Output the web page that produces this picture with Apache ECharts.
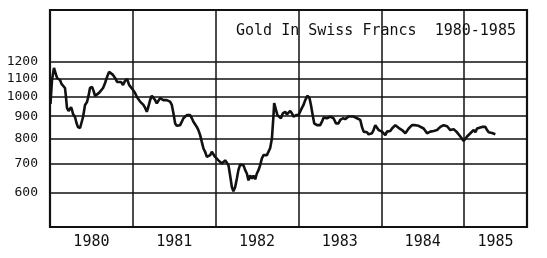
<!DOCTYPE html>
<html>
<head>
<meta charset="utf-8">
<script src="https://cdn.jsdelivr.net/npm/echarts@6/dist/echarts.min.js"></script>
<style>html,body{margin:0;padding:0;background:#fff}#c{width:547px;height:258px}</style>
</head>
<body>
<div id="c"></div>
<script>
var titleText = 'Gold In Swiss Francs  1980-1985';
var yTickValues = [600, 700, 800, 900, 1000, 1100, 1200];
var yearLines = [1981, 1982, 1983, 1984, 1985];
var yearLabelPositions = [1980.5, 1981.5, 1982.5, 1983.5, 1984.5, 1985.38];
var yMin = 500, yMax = 1580, xMin = 1980, xMax = 1985.76;

var years = [
1980.006,1980.024,1980.048,1980.066,1980.085,1980.103,1980.121,1980.139,1980.157,1980.181,
1980.193,1980.205,1980.224,1980.242,1980.254,1980.266,1980.278,1980.302,1980.320,1980.338,
1980.363,1980.381,1980.399,1980.423,1980.447,1980.465,1980.483,1980.508,1980.526,1980.544,
1980.568,1980.592,1980.616,1980.641,1980.665,1980.689,1980.713,1980.737,1980.761,1980.786,
1980.810,1980.834,1980.858,1980.882,1980.906,1980.931,1980.955,1980.979,
1981.003,1981.027,1981.048,1981.067,1981.088,1981.108,1981.128,1981.149,1981.169,1981.188,
1981.209,1981.229,1981.249,1981.269,1981.290,1981.309,1981.329,1981.350,1981.369,1981.390,
1981.410,1981.430,1981.450,1981.471,1981.490,1981.511,1981.531,1981.571,1981.592,1981.611,
1981.632,1981.652,1981.671,1981.692,1981.713,1981.732,1981.752,1981.773,1981.792,1981.813,
1981.833,1981.853,1981.873,1981.894,1981.913,1981.934,1981.954,1981.974,1981.994,
1982.015,1982.034,1982.055,1982.075,1982.094,1982.115,1982.136,1982.155,1982.175,1982.196,
1982.215,1982.236,1982.256,1982.275,1982.296,1982.317,1982.336,1982.357,1982.377,1982.397,
1982.417,1982.438,1982.457,1982.478,1982.498,1982.518,1982.538,1982.558,1982.578,1982.599,
1982.619,1982.638,1982.659,1982.680,1982.699,1982.707,1982.726,1982.746,1982.767,1982.788,
1982.812,1982.840,1982.861,1982.880,1982.901,1982.921,1982.941,1982.973,
1983.001,1983.030,1983.061,1983.082,1983.110,1983.134,1983.151,1983.175,1983.191,1983.223,
1983.243,1983.263,1983.284,1983.303,1983.344,1983.384,1983.424,1983.453,1983.484,1983.505,
1983.538,1983.565,1983.605,1983.666,1983.707,1983.747,1983.767,1983.787,1983.807,1983.828,
1983.847,1983.868,1983.888,1983.907,1983.928,1983.948,1983.968,1983.988,
1984.009,1984.028,1984.049,1984.069,1984.089,1984.109,1984.130,1984.149,1984.170,1984.190,
1984.209,1984.230,1984.251,1984.270,1984.291,1984.311,1984.331,1984.351,1984.371,1984.391,
1984.411,1984.432,1984.451,1984.472,1984.512,1984.553,1984.593,1984.633,1984.674,1984.714,
1984.753,1984.774,1984.795,1984.834,1984.874,1984.915,1984.955,1984.995,
1985.016,1985.036,1985.076,1985.116,1985.137,1985.157,1985.176,1985.217,1985.257,1985.278,
1985.297,1985.338,1985.378
];
var prices = [
960,1090,1162,1132,1102,1108,1090,1068,1062,1045,
996,940,925,920,944,930,910,896,868,849,
845,854,896,955,970,1002,1045,1051,1029,1002,
1007,1018,1023,1045,1073,1108,1138,1150,1120,1102,
1079,1090,1079,1062,1085,1096,1062,1051,
1034,1018,997,996,972,972,955,940,921,946,
980,1003,997,980,963,972,990,986,980,986,
980,980,972,955,915,866,855,858,874,890,
898,905,914,905,890,874,866,850,836,814,
785,758,745,725,719,732,745,743,725,
719,712,706,700,706,712,706,694,657,618,
604,618,646,676,696,700,694,676,664,640,
657,646,657,644,664,676,694,719,732,725,
732,732,760,800,905,964,960,905,914,890,
914,921,908,914,925,914,898,905,
905,930,955,980,1003,990,955,898,866,858,
866,858,874,893,890,898,890,866,866,882,
890,886,898,898,890,882,850,829,822,826,
817,814,822,836,858,850,836,836,
829,822,814,829,836,832,843,850,858,855,
846,850,836,829,822,829,843,850,858,855,
858,866,855,858,843,822,829,832,836,850,
858,850,853,836,840,826,808,789,
793,808,822,836,826,843,836,850,850,836,
826,823,818
];

var L = Math.log10;
var seriesData = years.map(function (y, i) { return [y, L(prices[i])]; });
var FONT = '"DejaVu Sans Mono", monospace';

var chart = echarts.init(document.getElementById('c'), null, {renderer: 'canvas'});
chart.setOption({
  animation: false,
  backgroundColor: '#fff',
  title: {
    text: titleText,
    left: 231, top: 19,
    textStyle: {fontFamily: FONT, fontSize: 15, fontWeight: 'normal', color: '#111'}
  },
  grid: {left: 50, right: 20, top: 10, bottom: 31, show: true, borderColor: '#111', borderWidth: 2.2, containLabel: false},
  xAxis: {
    type: 'value', min: xMin, max: xMax,
    axisLine: {show: false},
    axisTick: {show: false, customValues: yearLines},
    splitLine: {show: true, lineStyle: {color: '#111', width: 1.5}},
    axisLabel: {
      customValues: yearLabelPositions,
      formatter: function (v) { return String(Math.floor(v)); },
      fontFamily: FONT, fontSize: 15, color: '#111', margin: 8
    }
  },
  yAxis: {
    type: 'value', min: L(yMin), max: L(yMax),
    axisLine: {show: false},
    axisTick: {show: false, customValues: yTickValues.map(L)},
    splitLine: {show: true, lineStyle: {color: '#111', width: 1.5}},
    axisLabel: {
      customValues: yTickValues.map(L),
      formatter: function (v) { return String(Math.round(Math.pow(10, v))); },
      fontFamily: FONT, fontSize: 13, color: '#111', margin: 12
    }
  },
  series: [{
    type: 'line',
    data: seriesData,
    symbol: 'none',
    lineStyle: {color: '#111', width: 2.6},
    z: 3
  }]
});
</script>
</body>
</html>
